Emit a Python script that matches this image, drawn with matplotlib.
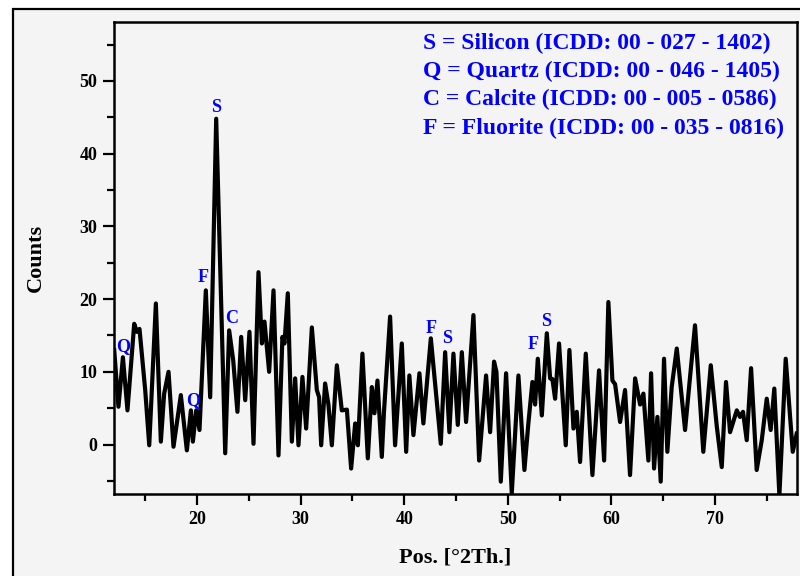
import numpy as np
import matplotlib.pyplot as plt
from matplotlib.patches import Rectangle

# diffraction pattern (2theta in degrees, counts)
two_theta = [12.02, 12.43, 12.86, 13.30, 13.95, 14.21, 14.46, 15.01, 15.40, 16.04,
             16.52, 16.84, 17.26, 17.74, 18.45, 19.03, 19.42, 19.61, 19.93, 20.25,
             20.86, 21.28, 21.86, 22.73, 23.11, 23.50, 23.91, 24.27, 24.66, 25.07,
             25.46, 25.94, 26.27, 26.52, 26.97, 27.39, 27.87, 28.25, 28.45, 28.77,
             29.16, 29.48, 29.80, 30.18, 30.54, 31.09, 31.57, 31.79, 31.99, 32.37,
             32.69, 33.02, 33.50, 33.98, 34.47, 34.88, 35.27, 35.53, 35.97, 36.49,
             36.88, 37.13, 37.42, 37.84, 38.05, 38.64, 39.12, 39.77, 40.19, 40.50,
             40.89, 41.47, 41.85, 42.57, 43.53, 43.95, 44.36, 44.75, 45.17, 45.56,
             45.97, 46.68, 47.23, 47.90, 48.29, 48.67, 48.90, 49.32, 49.83, 50.38,
             51.02, 51.60, 51.98, 52.37, 52.63, 52.89, 53.28, 53.76, 54.08, 54.30,
             54.56, 54.94, 55.59, 55.94, 56.33, 56.65, 56.97, 57.52, 58.16, 58.80,
             59.29, 59.70, 60.09, 60.35, 60.83, 61.31, 61.79, 62.28, 62.76, 63.08,
             63.56, 63.82, 64.11, 64.43, 64.75, 65.07, 65.39, 65.81, 66.30, 67.10,
             67.58, 68.06, 68.86, 69.58, 70.16, 70.64, 71.05, 71.44, 72.09, 72.40,
             72.69, 73.05, 73.47, 74.01, 74.50, 74.98, 75.36, 75.71, 76.20, 76.81,
             77.49, 77.87]
counts = [13.0, 5.2, 12.0, 4.7, 16.6, 15.5, 15.9, 7.5, -0.1, 19.4,
          0.4, 7.0, 10.0, -0.3, 6.8, -0.8, 4.7, 0.4, 4.7, 2.0,
          21.2, 6.5, 44.8, -1.2, 15.7, 11.6, 4.5, 14.8, 6.1, 15.5,
          0.1, 23.7, 13.9, 16.9, 10.0, 21.2, -1.5, 14.8, 13.9, 20.8,
          0.4, 9.1, -0.1, 9.3, 2.2, 16.1, 7.5, 6.5, -0.1, 8.4,
          5.5, -0.1, 10.9, 4.7, 4.8, -3.3, 2.9, -0.1, 12.5, -1.9,
          7.9, 4.3, 8.8, -1.7, 4.5, 17.6, -0.1, 13.9, -1.0, 9.5,
          1.3, 9.8, 2.9, 14.6, 0.1, 12.7, 1.7, 12.5, 2.7, 12.7,
          3.1, 17.8, -2.2, 9.5, 1.7, 11.4, 10.0, -5.1, 9.8, -6.7,
          9.5, -3.5, 2.9, 8.6, 5.5, 11.8, 4.0, 15.3, 9.1, 9.0,
          6.3, 13.9, -0.1, 13.0, 2.2, 4.5, -2.4, 12.5, -4.2, 10.2,
          -2.2, 19.6, 8.8, 8.3, 3.1, 7.5, -4.2, 9.1, 5.5, 7.0,
          -2.2, 9.8, -3.3, 3.8, -5.1, 11.8, -1.0, 7.9, 13.2, 2.0,
          9.3, 16.4, -1.0, 10.9, 2.5, -3.1, 8.6, 1.7, 4.7, 3.8,
          4.5, 0.6, 10.5, -3.5, 0.6, 6.3, 2.0, 7.7, -7.0, 11.8,
          -1.0, 1.5]

# phase marks
mark_text = ['Q', 'Q', 'F', 'S', 'C', 'F', 'S', 'F', 'S']
mark_x = [12.86, 19.61, 20.63, 21.86, 23.37, 42.57, 44.17, 52.47, 53.66]
mark_y = [13.5, 6.1, 23.0, 46.3, 17.3, 16.0, 14.6, 13.7, 16.9]

legend_lines = ['S = Silicon (ICDD: 00 - 027 - 1402)',
                'Q = Quartz (ICDD: 00 - 046 - 1405)',
                'C = Calcite (ICDD: 00 - 005 - 0586)',
                'F = Fluorite (ICDD: 00 - 035 - 0816)']

plt.rcParams['font.family'] = ['Liberation Serif', 'DejaVu Serif']
plt.rcParams['font.weight'] = 'bold'

fig = plt.figure(figsize=(8, 5.76), dpi=100)
fig.patch.set_facecolor('white')
# outer frame of the figure
frame = Rectangle((13/800, -0.1), 1.2, 1.1 - 9/576, transform=fig.transFigure,
                  facecolor='#f4f4f4', edgecolor='black', lw=1.6, zorder=-5)
fig.patches.append(frame)

ax = fig.add_axes([114/800, 1 - 494/576, 683/800, 472/576])
ax.set_zorder(2)
ax.set_facecolor('#f4f4f4')
ax.plot(two_theta, counts, color='black', lw=3.0, solid_joinstyle='round')

for t, x, y in zip(mark_text, mark_x, mark_y):
    ax.text(x, y, t, color='blue', fontsize=13, fontweight='bold', ha='center', va='center')

for i, line in enumerate(legend_lines):
    ax.text(0.452, 0.955 - i*0.06, line, transform=ax.transAxes, color='blue',
            fontsize=17, fontweight='bold', ha='left', va='center')

ax.set_xlim(12.0, 77.9)
ax.set_ylim(-6.8, 58.1)
ax.set_xticks([20, 30, 40, 50, 60, 70])
ax.set_xticks(np.arange(15, 80, 10), minor=True)
ax.set_yticks([0, 10, 20, 30, 40, 50])
ax.set_yticks(np.arange(-5, 60, 10), minor=True)
ax.tick_params(which='major', direction='out', length=8, width=1.6, labelsize=13, pad=4)
ax.tick_params(which='minor', direction='out', length=5, width=1.6)
ax.tick_params(top=False, right=False)
for s in ax.spines.values():
    s.set_linewidth(1.8)

ax.set_xlabel('Pos. [°2Th.]', fontsize=16, fontweight='bold', labelpad=14)
ax.set_ylabel('Counts', fontsize=16, fontweight='bold', labelpad=24)

fig.savefig('out.png', dpi=100)
